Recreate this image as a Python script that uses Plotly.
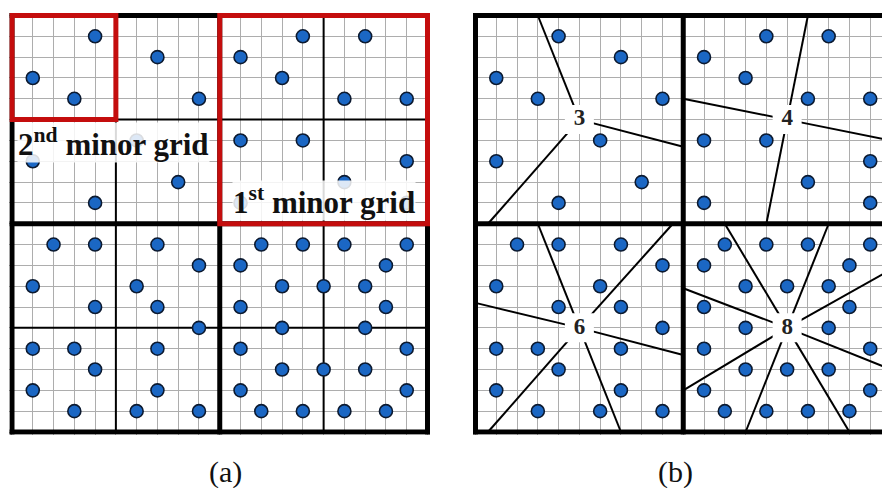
import plotly.graph_objects as go

# ---------------- data (grid units, 20 x 20 lattice, y downward) ----------------
DOT_X = [4, 1, 3, 7, 9, 1, 6, 4, 8,
         11, 14, 13, 17, 16, 19, 11, 14, 19, 16, 11, 19,
         2, 4, 7, 9, 1, 6, 4, 7, 9, 1, 3, 7, 4, 1, 7, 3, 6, 9,
         12, 14, 16, 19, 11, 18, 13, 15, 17, 11, 18, 13, 17, 11, 19, 13, 15, 17, 11, 19, 12, 14, 16, 18]
DOT_Y = [1, 3, 4, 2, 4, 7, 6, 9, 8,
         2, 1, 3, 1, 4, 4, 6, 6, 7, 8, 9, 9,
         11, 11, 11, 12, 13, 13, 14, 14, 15, 16, 16, 16, 17, 18, 18, 19, 19, 19,
         11, 11, 11, 11, 12, 12, 13, 13, 13, 14, 14, 15, 15, 16, 16, 17, 17, 17, 18, 18, 19, 19, 19, 19]

REGION_LABELS = ["3", "4", "6", "8"]
REGION_CX = [5, 15, 5, 15]
REGION_CY = [5, 5, 15, 15]
RAY_REGION = [0, 0, 0,
              1, 1, 1, 1,
              2, 2, 2, 2, 2, 2,
              3, 3, 3, 3, 3, 3, 3, 3]
RAY_END_X = [3, 10, 0.6,
             16, 10, 20, 14,
             3, 9.5, 0, 10, 0.6, 7,
             12, 17, 20, 20, 18, 13, 10, 10]
RAY_END_Y = [0, 6.3, 10,
             0, 4, 6, 10,
             10, 10, 13.8, 16.3, 20, 20,
             10, 10, 12.2, 17, 20, 20, 18, 13.1]

MAJOR_LINES = [0, 10, 20]
MINOR_LINES = [5, 15]
RED_BOXES = [(0, 0, 5, 5), (10, 0, 20, 10)]
PANEL_TITLES = ["(a)", "(b)"]

# ---------------- layout geometry ----------------
W, H = 882, 488
SX = 20.775       # px per unit (x)
SY = 20.825       # px per unit (y)
PAD = 0.13
A0 = 12.0         # px of x=0 in panel (a)
B0 = 475.5        # px of x=0 in panel (b)
Y0 = 15.5         # px of y=0

xa_range = [-PAD, 20 + PAD]
xa_dom = [(A0 - PAD * SX) / W, (A0 + (20 + PAD) * SX) / W]
xb_range = [-PAD, (W - B0) / SX]
xb_dom = [(B0 - PAD * SX) / W, 1.0]
y_range = [20 + PAD, -PAD]
y_dom = [1 - (Y0 + (20 + PAD) * SY) / H, 1 - (Y0 - PAD * SY) / H]

GRID = "#adadad"
DOT_FILL = "#1b67c4"
DOT_EDGE = "#0c1a30"
RED = "#c40d0d"

fig = go.Figure()

# dots in both panels
for xr in ["x", "x2"]:
    fig.add_trace(go.Scatter(
        x=DOT_X, y=DOT_Y, xaxis=xr, yaxis="y", mode="markers",
        marker=dict(size=13, color=DOT_FILL, line=dict(color=DOT_EDGE, width=1.6)),
        hoverinfo="skip", showlegend=False))

# region numbers in panel (b) on white squares
fig.add_trace(go.Scatter(
    x=REGION_CX, y=REGION_CY, xaxis="x2", yaxis="y", mode="markers+text",
    text=REGION_LABELS, textposition="middle center",
    textfont=dict(family="Liberation Serif", size=23, color="#222222", weight="bold"),
    marker=dict(symbol="square", size=29, color="white", line=dict(width=0)),
    hoverinfo="skip", showlegend=False))

shapes = []
# radial lines in panel (b), between grid and traces
for r, ex, ey in zip(RAY_REGION, RAY_END_X, RAY_END_Y):
    shapes.append(dict(type="line", xref="x2", yref="y", x0=REGION_CX[r], y0=REGION_CY[r],
                       x1=ex, y1=ey, line=dict(color="black", width=2), layer="between"))

# minor (thin) partition lines in panel (a)
for v in MINOR_LINES:
    shapes.append(dict(type="line", xref="x", yref="y", x0=v, x1=v, y0=0, y1=20,
                       line=dict(color="black", width=2), layer="between"))
    shapes.append(dict(type="line", xref="x", yref="y", x0=0, x1=20, y0=v, y1=v,
                       line=dict(color="black", width=2), layer="between"))

# major (thick) lines in both panels
for xr in ["x", "x2"]:
    for v in MAJOR_LINES:
        shapes.append(dict(type="line", xref=xr, yref="y", x0=v, x1=v, y0=-0.12, y1=20.12,
                           line=dict(color="black", width=5), layer="between"))
        shapes.append(dict(type="line", xref=xr, yref="y", x0=-0.12, x1=20.12, y0=v, y1=v,
                           line=dict(color="black", width=5), layer="between"))

# red highlight boxes in panel (a)
for (x0, y0, x1, y1) in RED_BOXES:
    shapes.append(dict(type="rect", xref="x", yref="y", x0=x0, y0=y0, x1=x1, y1=y1,
                       line=dict(color=RED, width=5), layer="above"))

annotations = []
annotations.append(dict(text="2<sup>nd</sup> minor grid", x=4.88, y=6.12, xref="x", yref="y",
                        showarrow=False, xanchor="center", yanchor="middle",
                        font=dict(family="Liberation Serif", size=31, color="#111111", weight="bold"),
                        bgcolor="rgba(255,255,255,0.85)", borderpad=0))
annotations.append(dict(text="1<sup>st</sup> minor grid", x=15.0, y=8.86, xref="x", yref="y",
                        showarrow=False, xanchor="center", yanchor="middle",
                        font=dict(family="Liberation Serif", size=31, color="#111111", weight="bold"),
                        bgcolor="rgba(255,255,255,0.85)", borderpad=0))

for t, px in zip(PANEL_TITLES, [225, 675]):
    annotations.append(dict(text=t, x=px / W, y=1 - 472 / H, xref="paper", yref="paper",
                            showarrow=False, xanchor="center", yanchor="middle",
                            font=dict(family="Liberation Serif", size=30, color="#111111")))

axis_common = dict(showgrid=True, gridcolor=GRID, gridwidth=1, dtick=1, tick0=0,
                   showticklabels=False, ticks="", zeroline=False, showline=False, fixedrange=True)

fig.update_layout(
    width=W, height=H, margin=dict(l=0, r=0, t=0, b=0),
    paper_bgcolor="white", plot_bgcolor="white",
    xaxis=dict(domain=xa_dom, range=xa_range, **axis_common),
    xaxis2=dict(domain=xb_dom, range=xb_range, anchor="y", **axis_common),
    yaxis=dict(domain=y_dom, range=y_range, **axis_common),
    shapes=shapes, annotations=annotations, showlegend=False,
)

fig.write_html("out.html")
